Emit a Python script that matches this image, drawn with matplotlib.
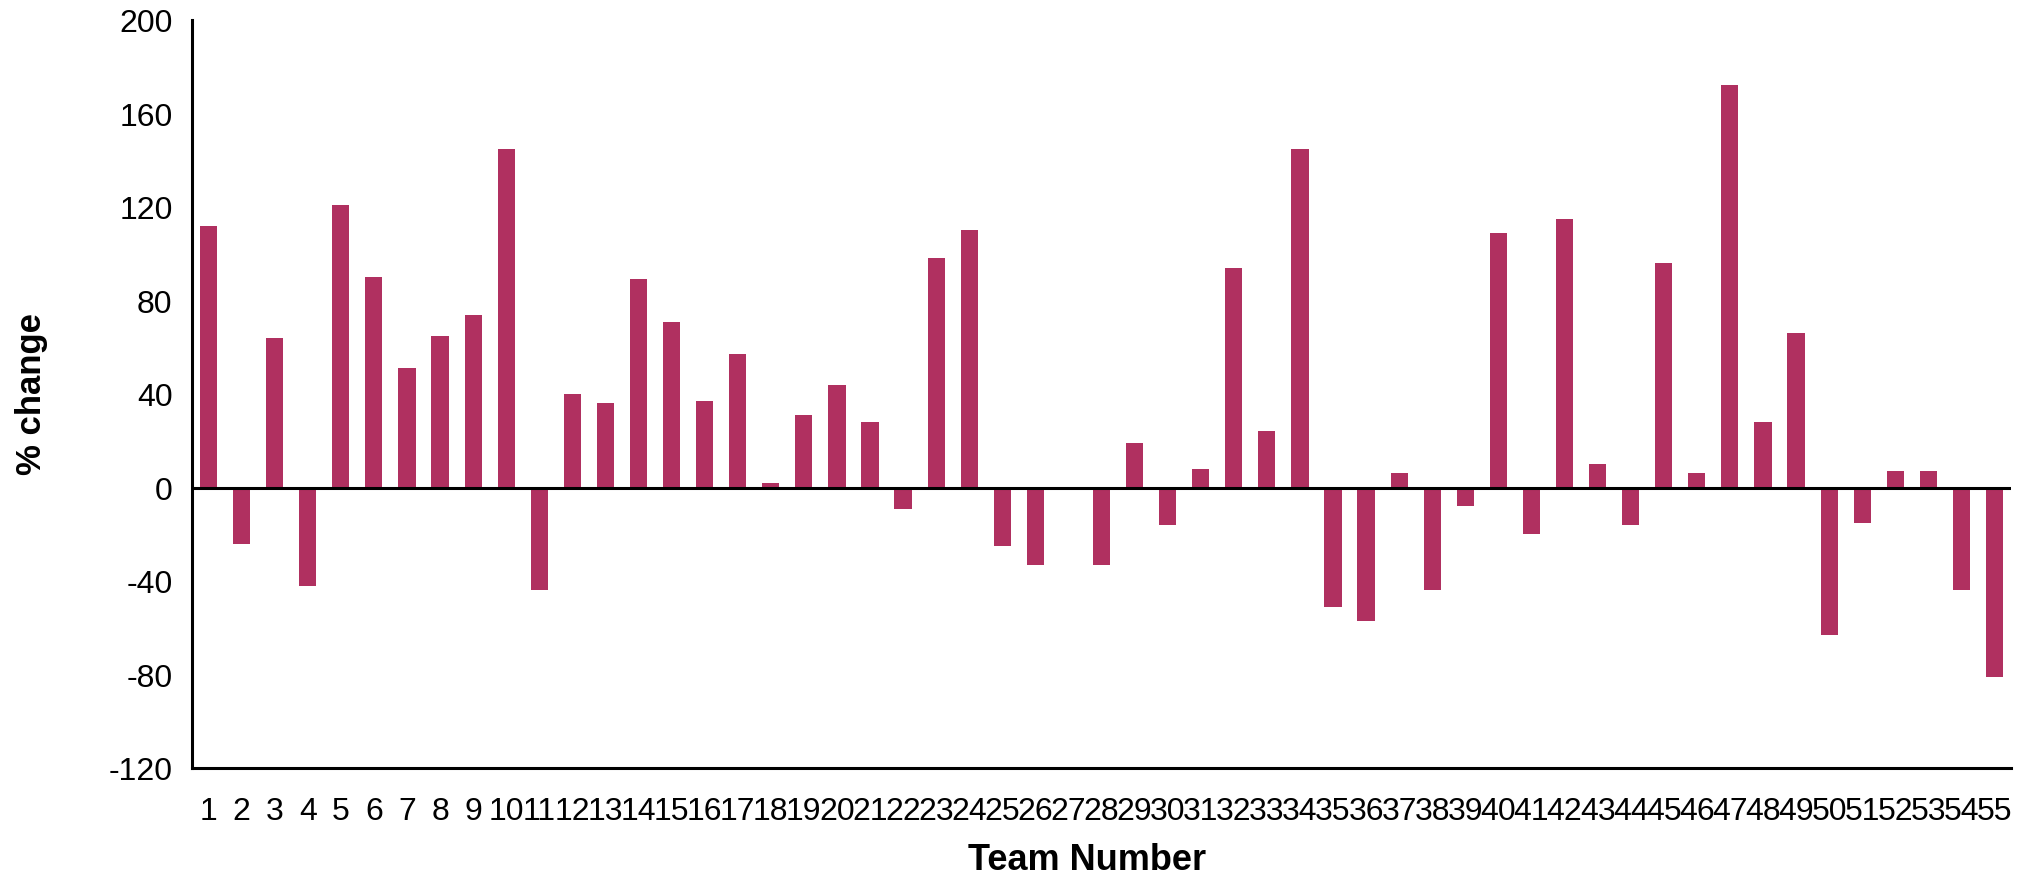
import matplotlib
matplotlib.use("Agg")
import matplotlib.pyplot as plt
import numpy as np

teams = list(range(1, 56))
pct_change = [112, -24, 64, -42, 121, 90, 51, 65, 74, 145,
              -44, 40, 36, 89, 71, 37, 57, 2, 31, 44,
              28, -9, 98, 110, -25, -33, -1, -33, 19, -16,
              8, 94, 24, 145, -51, -57, 6, -44, -8, 109,
              -20, 115, 10, -16, 96, 6, 172, 28, 66, -63,
              -15, 7, 7, -44, -81]
yticks = [-120, -80, -40, 0, 40, 80, 120, 160, 200]

plt.rcParams['font.family'] = ['Liberation Sans', 'DejaVu Sans']

W, H = 2037, 878
fig = plt.figure(figsize=(W / 100, H / 100), dpi=100)
ax = fig.add_axes([192 / W, 1 - 769 / H, (2011 - 192) / W, (769 - 21) / H])

ax.bar(teams, pct_change, width=0.52, color='#B03060', zorder=2)
ax.axhline(0, color='black', lw=2.2, zorder=3)

ax.set_xlim(0.5, 55.5)
ax.set_ylim(-120, 200)
ax.set_yticks(yticks)
ax.set_yticklabels([str(v) for v in yticks])
ax.set_xticks(teams)
ax.set_xticklabels([str(t) for t in teams])
ax.tick_params(axis='both', length=0, labelsize=23)
ax.tick_params(axis='x', pad=20)
ax.tick_params(axis='y', pad=14)

for s in ['top', 'right']:
    ax.spines[s].set_visible(False)
for s in ['left', 'bottom']:
    ax.spines[s].set_linewidth(2.2)
    ax.spines[s].set_color('black')

fig.text(32 / W, 1 - 394 / H, '% change', rotation=90, ha='center', va='center',
         fontsize=25, fontweight='bold')
fig.text(1087 / W, 1 - 861 / H, 'Team Number', ha='center', va='center',
         fontsize=26, fontweight='bold')

fig.savefig('out.png', dpi=100)
